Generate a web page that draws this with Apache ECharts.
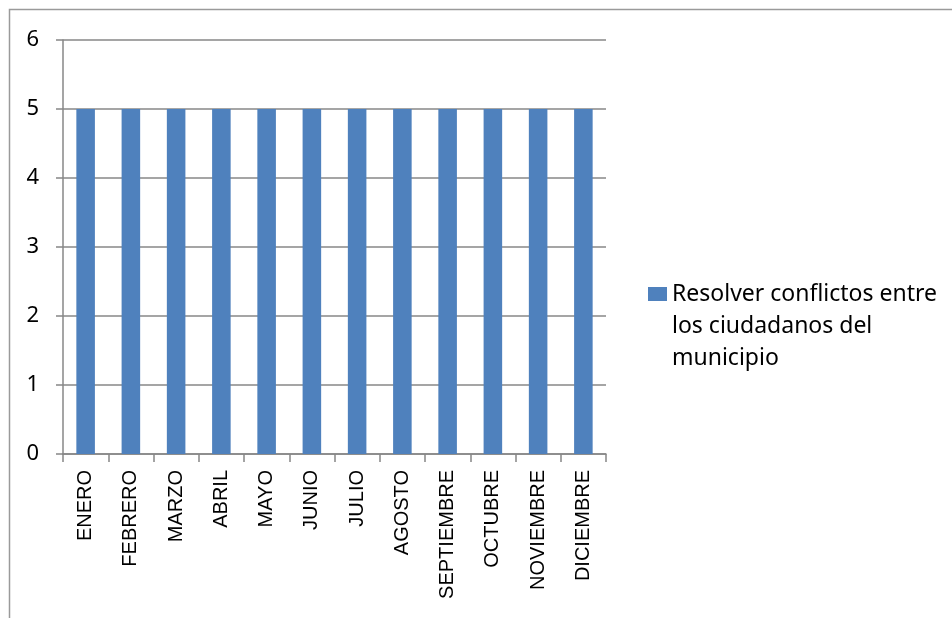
<!DOCTYPE html>
<html>
<head>
<meta charset="utf-8">
<script src="https://cdn.jsdelivr.net/npm/echarts@6/dist/echarts.min.js"></script>
<style>
  html, body { margin: 0; padding: 0; background: #fff; }
  #chart { width: 952px; height: 618px; }
</style>
</head>
<body>
<div id="chart"></div>
<script>
// datos
const meses = ['ENERO', 'FEBRERO', 'MARZO', 'ABRIL', 'MAYO', 'JUNIO', 'JULIO',
  'AGOSTO', 'SEPTIEMBRE', 'OCTUBRE', 'NOVIEMBRE', 'DICIEMBRE'];
const serieNombre = 'Resolver conflictos entre los ciudadanos del municipio';
const valores = [5, 5, 5, 5, 5, 5, 5, 5, 5, 5, 5, 5];

const gris = '#878787';

const chart = echarts.init(document.getElementById('chart'));

const option = {
  animation: false,
  // borde del area del grafico
  graphic: [{
    type: 'rect',
    shape: { x: 9.5, y: 9.5, width: 1000, height: 700 },
    style: { fill: 'none', stroke: '#9a9a9a', lineWidth: 1.5 },
    silent: true
  }],
  grid: { left: 63, right: 346, top: 40, bottom: 164, outerBoundsMode: 'none' },
  legend: {
    left: 648,
    top: 278,
    padding: 0,
    // cuadro arriba de un icono alto para que quede junto a la primera linea
    icon: 'path://M0,0H19V14H0Z M0,78',
    itemWidth: 19,
    itemHeight: 78,
    data: [serieNombre],
    formatter: () => 'Resolver conflictos entre\nlos ciudadanos del\nmunicipio',
    textStyle: {
      fontFamily: 'Noto Sans',
      fontSize: 23,
      lineHeight: 32,
      color: '#000'
    }
  },
  xAxis: {
    type: 'category',
    data: meses,
    axisLine: { lineStyle: { color: gris, width: 1.5 } },
    axisTick: { show: true, length: 8, lineStyle: { color: gris, width: 1.5 } },
    axisLabel: {
      rotate: 90,
      interval: 0,
      margin: 16,
      color: '#000',
      fontFamily: 'Liberation Sans',
      fontSize: 20
    }
  },
  yAxis: {
    type: 'value',
    min: 0,
    max: 6,
    interval: 1,
    axisLine: { show: true, lineStyle: { color: gris, width: 1.5 } },
    axisTick: { show: true, length: 7, lineStyle: { color: gris, width: 1.5 } },
    splitLine: { lineStyle: { color: gris, width: 1.5 } },
    axisLabel: {
      margin: 24,
      color: '#000',
      fontFamily: 'Noto Sans',
      fontSize: 22
    }
  },
  series: [{
    name: serieNombre,
    type: 'bar',
    data: valores,
    barWidth: '41%',
    itemStyle: { color: '#4F81BD' }
  }]
};

chart.setOption(option);
</script>
</body>
</html>
